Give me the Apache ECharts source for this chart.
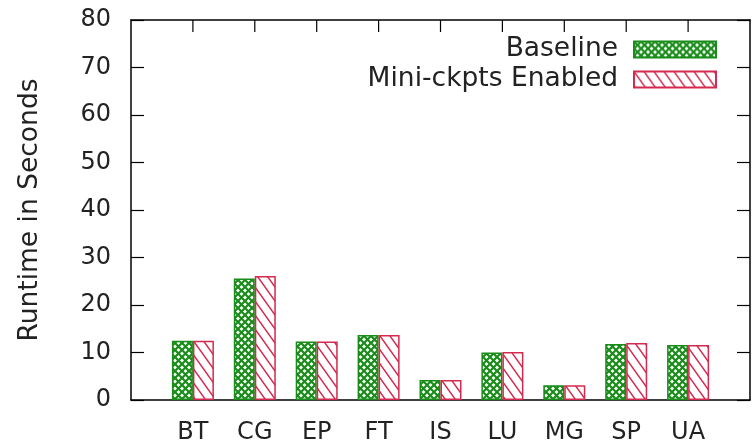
<!DOCTYPE html>
<html>
<head>
<meta charset="utf-8">
<script src="https://cdn.jsdelivr.net/npm/echarts@6/dist/echarts.min.js"></script>
<style>
html,body{margin:0;padding:0;background:#fff;}
#chart{width:755px;height:442px;}
</style>
</head>
<body>
<div id="chart"></div>
<script>
var categories = ['BT', 'CG', 'EP', 'FT', 'IS', 'LU', 'MG', 'SP', 'UA'];
var baseline = [12.5, 25.6, 12.3, 13.7, 4.2, 10.0, 3.1, 11.8, 11.6];
var miniCkpts = [12.5, 26.1, 12.3, 13.7, 4.2, 10.1, 3.1, 12.0, 11.6];
var yTicks = [0, 10, 20, 30, 40, 50, 60, 70, 80];

var GREEN = '#1a8c1a';
var RED = '#d42a50';

function makeCross(color) {
  var s = 7;
  var c = document.createElement('canvas');
  c.width = s; c.height = s;
  var g = c.getContext('2d');
  g.fillStyle = '#fff'; g.fillRect(0, 0, s, s);
  g.strokeStyle = color; g.lineWidth = 2.2;
  g.beginPath();
  g.moveTo(-1, -1); g.lineTo(s + 1, s + 1);
  g.moveTo(s + 1, -1); g.lineTo(-1, s + 1);
  g.stroke();
  return c;
}
function makeDiag(color) {
  var w = 10, h = 14;
  var c = document.createElement('canvas');
  c.width = w; c.height = h;
  var g = c.getContext('2d');
  g.fillStyle = '#fff'; g.fillRect(0, 0, w, h);
  g.strokeStyle = color; g.lineWidth = 1.5;
  g.beginPath();
  for (var k = -1; k <= 1; k++) {
    g.moveTo(k * w - w * 0.2, -h * 0.2);
    g.lineTo(k * w + w * 1.2, h * 1.2);
  }
  g.stroke();
  return c;
}

var cats = [''].concat(categories).concat(['']);
function pad(a) { return [null].concat(a).concat([null]); }
var yMax = yTicks[yTicks.length - 1];

var FONT = 'DejaVu Sans';
var chart = echarts.init(document.getElementById('chart'), null, {renderer: 'canvas'});
chart.setOption({
  animation: false,
  backgroundColor: '#fff',
  textStyle: {fontFamily: FONT},
  grid: {left: 131, right: 5, top: 20, bottom: 42, containLabel: false, outerBoundsMode: 'none'},
  legend: {
    orient: 'vertical',
    right: 33,
    top: 31,
    align: 'right',
    icon: 'rect',
    itemWidth: 82,
    itemHeight: 16,
    itemGap: 3,
    textStyle: {fontFamily: FONT, fontSize: 26.5, color: '#222', padding: [0, 11, 0, 0]},
    data: ['Baseline', 'Mini-ckpts Enabled']
  },
  xAxis: [{
    type: 'category',
    data: cats,
    boundaryGap: false,
    axisLine: {onZero: false, lineStyle: {color: '#000', width: 1.5}},
    axisTick: {show: false},
    axisLabel: {fontFamily: FONT, fontSize: 24, color: '#222', margin: 21, interval: 0},
    splitLine: {show: false}
  }, {
    type: 'category',
    data: cats,
    position: 'top',
    boundaryGap: false,
    axisLine: {show: true, onZero: false, lineStyle: {color: '#000', width: 1.5}},
    axisTick: {show: false},
    axisLabel: {show: false},
    splitLine: {show: false}
  }],
  yAxis: [{
    type: 'value',
    min: yTicks[0],
    max: yMax,
    interval: 10,
    name: 'Runtime in Seconds',
    nameLocation: 'middle',
    nameGap: 87,
    nameTextStyle: {fontFamily: FONT, fontSize: 26.5, color: '#222'},
    axisLine: {show: true, onZero: false, lineStyle: {color: '#000', width: 1.5}},
    axisTick: {show: true, inside: true, length: 13, lineStyle: {color: '#000', width: 1.2}},
    axisLabel: {fontFamily: FONT, fontSize: 24, color: '#222', margin: 20},
    splitLine: {show: false}
  }, {
    type: 'value',
    position: 'right',
    min: yTicks[0],
    max: yMax,
    interval: 10,
    axisLine: {show: true, onZero: false, lineStyle: {color: '#000', width: 1.5}},
    axisTick: {show: true, inside: true, length: 13, lineStyle: {color: '#000', width: 1.2}},
    axisLabel: {show: false},
    splitLine: {show: false}
  }],
  series: [{
    name: 'Baseline',
    type: 'bar',
    data: pad(baseline),
    barWidth: 21,
    barGap: '0%',
    itemStyle: {color: {image: makeCross(GREEN), repeat: 'repeat'}, borderColor: GREEN, borderWidth: 1.5}
  }, {
    name: 'Mini-ckpts Enabled',
    type: 'bar',
    data: pad(miniCkpts),
    barWidth: 21,
    barGap: '0%',
    itemStyle: {color: {image: makeDiag(RED), repeat: 'repeat'}, borderColor: RED, borderWidth: 1.5}
  }]
});

var tickGraphics = categories.map(function (c) {
  var p = chart.convertToPixel({xAxisIndex: 0, yAxisIndex: 0}, [c, yMax]);
  return {
    type: 'line',
    silent: true,
    z: 100,
    shape: {x1: p[0], y1: p[1], x2: p[0], y2: p[1] + 12},
    style: {stroke: '#000', lineWidth: 1.2}
  };
});
chart.setOption({graphic: tickGraphics});
</script>
</body>
</html>
